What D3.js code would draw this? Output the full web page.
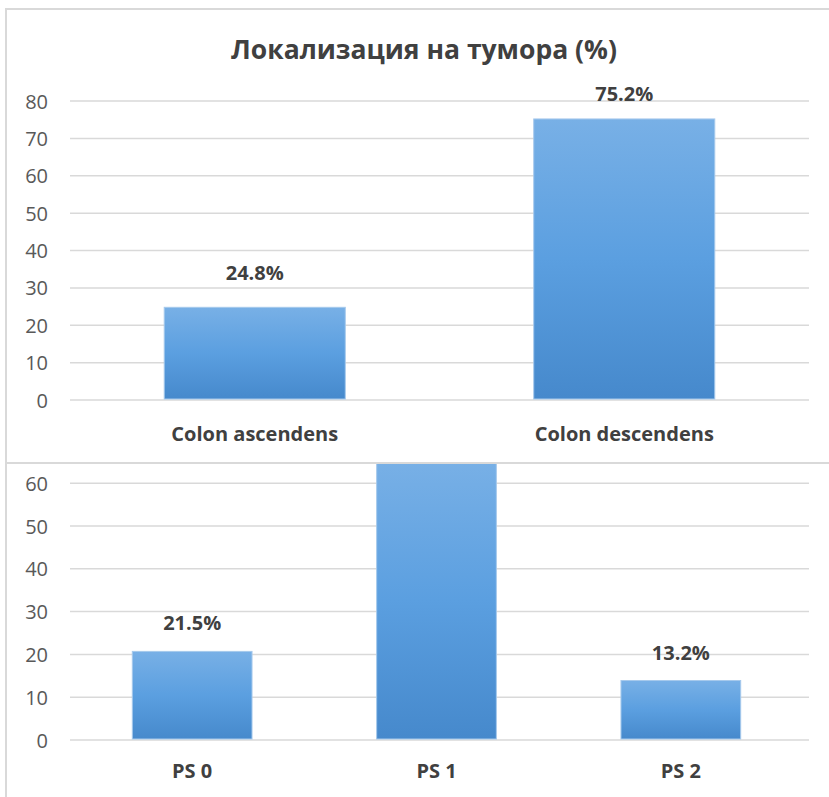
<!DOCTYPE html>
<html><head><meta charset="utf-8">
<script src="https://cdn.jsdelivr.net/npm/d3@7"></script>
<style>html,body{margin:0;padding:0;background:#fff;}svg{display:block;}</style>
</head><body>
<svg id="chart" width="829" height="797"></svg>
<script>
// ---- data ----
const title = "Локализация на тумора (%)";
const locCategories = ["Colon ascendens", "Colon descendens"];
const locValues = [24.8, 75.2];
const locLabels = ["24.8%", "75.2%"];
const locTicks = [0, 10, 20, 30, 40, 50, 60, 70, 80];

const psCategories = ["PS 0", "PS 1", "PS 2"];
const psValues = [20.7, 65.3, 13.9];
const psLabels = ["21.5%", "65.3%", "13.2%"];
const psTicks = [0, 10, 20, 30, 40, 50, 60, 70];

// ---- drawing ----
const svg = d3.select("#chart");
const FONT = "'Open Sans', 'DejaVu Sans', sans-serif";
const grid = "#d9d9d9";

const defs = svg.append("defs");
const grad = defs.append("linearGradient").attr("id", "barGrad")
  .attr("x1", 0).attr("y1", 0).attr("x2", 0).attr("y2", 1);
grad.append("stop").attr("offset", "0%").attr("stop-color", "#78b0e6");
grad.append("stop").attr("offset", "50%").attr("stop-color", "#5b9fe0");
grad.append("stop").attr("offset", "100%").attr("stop-color", "#4689cc");

defs.append("clipPath").attr("id", "clipBottom")
  .append("rect").attr("x", 0).attr("y", 464).attr("width", 829).attr("height", 333);

svg.append("rect").attr("width", 829).attr("height", 797).attr("fill", "#fff");

// frames
svg.append("rect").attr("x", 6).attr("y", 9).attr("width", 860).attr("height", 454)
  .attr("fill", "none").attr("stroke", grid).attr("stroke-width", 2);
svg.append("line").attr("x1", 6).attr("x2", 6).attr("y1", 463).attr("y2", 797)
  .attr("stroke", grid).attr("stroke-width", 2);

// title
svg.append("text").attr("x", 424).attr("y", 59).attr("text-anchor", "middle")
  .attr("font-family", FONT).attr("font-weight", "bold").attr("font-size", 26.5)
  .attr("fill", "#404040").text(title);

function drawChart(g, cats, vals, labels, ticks, xRange, yScale, gridX2, labelOffset, labelMinY, catY) {
  const x = d3.scaleBand().domain(cats).range(xRange).paddingInner(0.51).paddingOuter(0.255);
  const yAxis = d3.axisLeft(yScale).tickValues(ticks).tickSize(0).tickPadding(0);
  const ax = g.append("g").attr("transform", `translate(48,0)`).call(yAxis);
  ax.select(".domain").remove();
  ax.selectAll("text").attr("font-family", FONT).attr("font-size", 20).attr("fill", "#595959")
    .attr("dy", "0.35em");
  g.append("g").selectAll("line").data(ticks).join("line")
    .attr("x1", 70).attr("x2", gridX2)
    .attr("y1", d => yScale(d)).attr("y2", d => yScale(d))
    .attr("stroke", grid).attr("stroke-width", 1.5);
  g.append("g").selectAll("rect").data(vals).join("rect")
    .attr("x", (d, i) => x(cats[i])).attr("width", x.bandwidth())
    .attr("y", d => yScale(d)).attr("height", d => yScale(0) - yScale(d) - 1)
    .attr("fill", "url(#barGrad)").attr("stroke", "#a6c9ec").attr("stroke-width", 1);
  g.append("g").selectAll("text").data(vals).join("text")
    .attr("x", (d, i) => x(cats[i]) + x.bandwidth() / 2)
    .attr("y", d => Math.max(yScale(d) - labelOffset, labelMinY))
    .attr("text-anchor", "middle").attr("font-family", FONT).attr("font-weight", "bold")
    .attr("font-size", 20).attr("fill", "#404040")
    .text((d, i) => labels[i]);
  g.append("g").selectAll("text").data(cats).join("text")
    .attr("x", d => x(d) + x.bandwidth() / 2).attr("y", catY)
    .attr("text-anchor", "middle").attr("font-family", FONT).attr("font-weight", "bold")
    .attr("font-size", 20).attr("fill", "#404040").text(d => d);
}

const yTop = d3.scaleLinear().domain([0, 80]).range([400, 101]);
drawChart(svg.append("g"), locCategories, locValues, locLabels, locTicks,
  [70, 809], yTop, 809, 27, 101, 441);

const yBot = d3.scaleLinear().domain([0, 70]).range([740, 440.4]);
drawChart(svg.append("g").attr("clip-path", "url(#clipBottom)"), psCategories, psValues, psLabels, psTicks,
  [70, 803], yBot, 809, 21, 0, 778);

// separator between the two charts
svg.append("line").attr("x1", 6).attr("x2", 829).attr("y1", 463).attr("y2", 463)
  .attr("stroke", grid).attr("stroke-width", 2);
</script>
</body></html>
